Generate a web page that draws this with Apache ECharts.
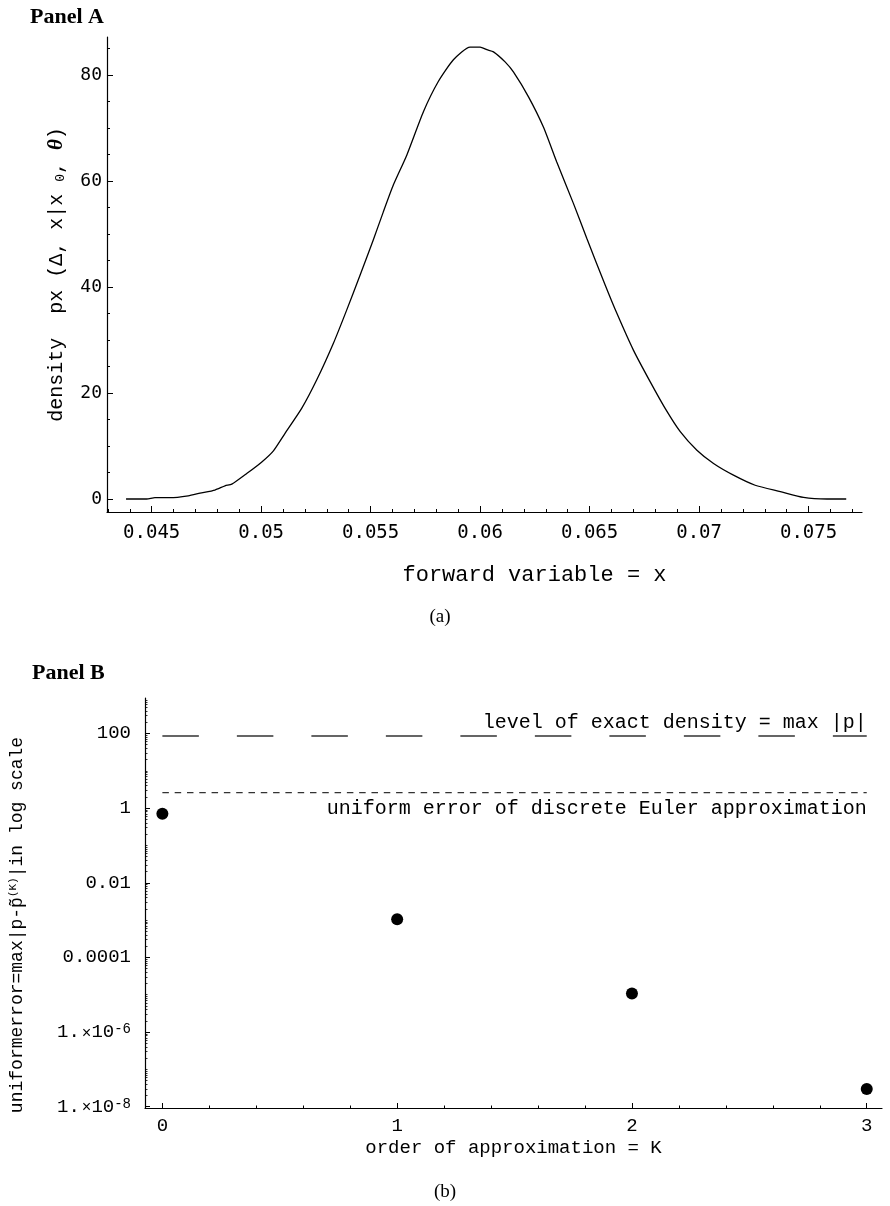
<!DOCTYPE html>
<html><head><meta charset="utf-8">
<script src="https://cdn.jsdelivr.net/npm/echarts@6/dist/echarts.min.js"></script>
<style>html,body{margin:0;padding:0;background:#fff}#c{width:890px;height:1206px}</style>
</head><body><div id="c"></div>
<script>
// ---------- Panel A : density of the forward variable ----------
const forwardX = [0.04383,0.04477,0.04515,0.04584,0.04667,0.04721,0.04789,0.04835,0.04866,0.04934,
  0.05003,0.05056,0.05109,0.05185,0.05254,0.05330,0.05391,0.05452,0.05512,0.05558,
  0.05604,0.05665,0.05741,0.05809,0.05878,0.05954,0.06000,0.06031,0.06061,0.06114,
  0.06152,0.06221,0.06289,0.06350,0.06426,0.06487,0.06571,0.06625,0.06700,0.06777,
  0.06845,0.06914,0.06990,0.07066,0.07157,0.07256,0.07371,0.07477,0.07584,0.07672];
const densityPx = [0,0,0.25,0.25,0.6,1.1,1.7,2.5,2.8,4.8,
  7.0,9.1,12.4,17.1,22.5,29.4,35.7,42.3,48.9,54.2,
  59.3,64.9,73.1,78.8,82.9,85.3,85.3,84.8,84.4,82.5,
  80.6,75.9,70.2,63.6,55.8,49.2,40.4,35.0,28.1,22.1,
  17.1,12.7,9.2,6.7,4.5,2.6,1.4,0.3,0,0];
const xTicksA = [0.045,0.05,0.055,0.06,0.065,0.07,0.075];
const xMinorTicksA = [0.043,0.044,0.046,0.047,0.048,0.049,0.051,0.052,0.053,0.054,0.056,0.057,0.058,0.059,
  0.061,0.062,0.063,0.064,0.066,0.067,0.068,0.069,0.071,0.072,0.073,0.074,0.076,0.077];
const yTicksA = [0,20,40,60,80];
const yMinorTicksA = [5,10,15,25,30,35,45,50,55,65,70,75,85];

// ---------- Panel B : uniform error vs order K ----------
const orderK = [0,1,2,3];
const uniformError = [0.71,0.00105,1.08e-5,3.0e-8];
const exactDensityMax = 85.3;
const eulerUniformError = 2.6;
const refLineK = [0,3];
const xTicksB = [0,1,2,3];
const xMinorTicksB = [0.2,0.4,0.6,0.8,1.2,1.4,1.6,1.8,2.2,2.4,2.6,2.8];
const yTickExpB = [-8,-6,-4,-2,0,2];
const yTickLabelsB = ['1.×10^-8','1.×10^-6','0.0001','0.01','1','100'];

const lg = v => Math.log10(v);
// log-scale minor ticks (2..9 × 10^k and odd decades)
const yMinorTicksB = [];
for (let k = -8; k <= 2; k++) {
  for (let m = 1; m <= 9; m++) {
    if (m === 1 && yTickExpB.indexOf(k) >= 0) continue;
    yMinorTicksB.push(k + Math.log10(m));
  }
}

const MONO = '"Liberation Mono", "Courier New", monospace';
const SMONO = '"DejaVu Sans Mono", monospace';
const SERIF = '"Liberation Serif", "Times New Roman", serif';
const black = '#000';

const axLine = {show: true, onZero: false, lineStyle: {color: black, width: 1.2}};
const noLine = {show: false, onZero: false};

const option = {
  animation: false,
  backgroundColor: '#fff',
  textStyle: {fontFamily: MONO, color: black},
  grid: [
    {left: 107, right: 28, top: 37, height: 475},
    {left: 144, right: 8, top: 698, height: 410}
  ],
  xAxis: [
    {gridIndex: 0, type: 'value', min: 0.04296, max: 0.07744, position: 'bottom',
     axisLine: axLine,
     axisTick: {show: true, inside: true, length: 6, customValues: xTicksA, lineStyle: {color: black}},
     axisLabel: {customValues: xTicksA, formatter: v => String(+(+v).toFixed(3)), color: black,
                 fontFamily: SMONO, fontSize: 19, margin: 12},
     splitLine: {show: false},
     name: 'forward variable = x', nameLocation: 'middle', nameGap: 52,
     nameTextStyle: {fontFamily: MONO, fontSize: 22, color: black, padding: [0, 0, 0, 100]}},
    {gridIndex: 0, type: 'value', min: 0.04296, max: 0.07744, position: 'bottom',
     axisLine: noLine,
     axisTick: {show: true, inside: true, length: 3, customValues: xMinorTicksA, lineStyle: {color: black}},
     axisLabel: {show: false}, splitLine: {show: false}},
    {gridIndex: 1, type: 'value', min: -0.074, max: 3.065, position: 'bottom',
     axisLine: axLine,
     axisTick: {show: true, inside: true, length: 5, customValues: xTicksB, lineStyle: {color: black}},
     axisLabel: {customValues: xTicksB, color: black, fontFamily: MONO, fontSize: 19, margin: 8},
     splitLine: {show: false},
     name: 'order of approximation = K', nameLocation: 'middle', nameGap: 30,
     nameTextStyle: {fontFamily: MONO, fontSize: 19, color: black}},
    {gridIndex: 1, type: 'value', min: -0.074, max: 3.065, position: 'bottom',
     axisLine: noLine,
     axisTick: {show: true, inside: true, length: 2.5, customValues: xMinorTicksB, lineStyle: {color: black}},
     axisLabel: {show: false}, splitLine: {show: false}}
  ],
  yAxis: [
    {gridIndex: 0, type: 'value', min: -2.45, max: 87.2, position: 'left',
     axisLine: axLine,
     axisTick: {show: true, inside: true, length: 6, customValues: yTicksA, lineStyle: {color: black}},
     axisLabel: {customValues: yTicksA, color: black, fontFamily: SMONO, fontSize: 18, margin: 5},
     splitLine: {show: false},
     name: '{t|density  px (Δ, x|x }{s|0}{t|, }{i|θ}{t|)}', nameLocation: 'middle', nameGap: 40,
     nameRotate: 90,
     nameTextStyle: {color: black, rich: {
       t: {fontFamily: MONO, fontSize: 20, color: black},
       s: {fontFamily: MONO, fontSize: 13, color: black, verticalAlign: 'bottom', padding: [8, 0, 0, 0]},
       i: {fontFamily: SERIF, fontSize: 21, fontStyle: 'italic', fontWeight: 'bold', color: black}
     }}},
    {gridIndex: 0, type: 'value', min: -2.45, max: 87.2, position: 'left',
     axisLine: noLine,
     axisTick: {show: true, inside: true, length: 3, customValues: yMinorTicksA, lineStyle: {color: black}},
     axisLabel: {show: false}, splitLine: {show: false}},
    {gridIndex: 1, type: 'value', min: -8.035, max: 2.95, position: 'left',
     axisLine: axLine,
     axisTick: {show: true, inside: true, length: 5, customValues: yTickExpB, lineStyle: {color: black}},
     axisLabel: {customValues: yTickExpB, margin: 14, color: black,
       formatter: v => {
         const i = yTickExpB.indexOf(Math.round(v));
         const s = i >= 0 ? yTickLabelsB[i] : '';
         const m = s.match(/^1\.×10\^(-?\d+)$/);
         return m ? '{n|1.}{x|×}{t|10}{p|' + m[1] + '}' : '{n|' + s + '}';
       },
       rich: {
         n: {fontFamily: MONO, fontSize: 19, color: black, verticalAlign: 'bottom'},
         x: {fontFamily: MONO, fontSize: 16, color: black, verticalAlign: 'bottom', padding: [0, 0, 0, 2]},
         t: {fontFamily: MONO, fontSize: 19, color: black, verticalAlign: 'top'},
         p: {fontFamily: MONO, fontSize: 14, color: black, verticalAlign: 'top'}
       }},
     splitLine: {show: false},
     name: '{t|uniformerror=max|p-p̃}{s|(K)}{t||in log scale}', nameLocation: 'middle', nameGap: 118,
     nameRotate: 90,
     nameTextStyle: {color: black, padding: [0, 44, 0, 0], rich: {
       t: {fontFamily: MONO, fontSize: 18, color: black},
       s: {fontFamily: MONO, fontSize: 11, color: black, verticalAlign: 'top', padding: [0, 0, 8, 0]}
     }}},
    {gridIndex: 1, type: 'value', min: -8.035, max: 2.95, position: 'left',
     axisLine: noLine,
     axisTick: {show: true, inside: true, length: 2.5, customValues: yMinorTicksB, lineStyle: {color: black, width: 0.8}},
     axisLabel: {show: false}, splitLine: {show: false}}
  ],
  series: [
    {type: 'line', xAxisIndex: 0, yAxisIndex: 0, showSymbol: false, smooth: 0.2,
     data: forwardX.map((x, i) => [x, densityPx[i]]),
     lineStyle: {color: black, width: 1.3}},
    {type: 'line', xAxisIndex: 2, yAxisIndex: 2, showSymbol: false,
     data: refLineK.map(k => [k, lg(exactDensityMax)]),
     lineStyle: {color: '#333', width: 1.5, type: [36.5, 38]}},
    {type: 'line', xAxisIndex: 2, yAxisIndex: 2, showSymbol: false,
     data: refLineK.map(k => [k, lg(eulerUniformError)]),
     lineStyle: {color: '#333', width: 1.3, type: [6.5, 5.8]}},
    {type: 'scatter', xAxisIndex: 2, yAxisIndex: 2, symbol: 'circle', symbolSize: 12,
     itemStyle: {color: black, opacity: 1},
     data: orderK.map((k, i) => [k, lg(uniformError[i])])}
  ]
};

const chart = echarts.init(document.getElementById('c'));
chart.setOption(option);

const pLevel = chart.convertToPixel({xAxisIndex: 2, yAxisIndex: 2}, [refLineK[1], lg(exactDensityMax)]);
const pEuler = chart.convertToPixel({xAxisIndex: 2, yAxisIndex: 2}, [refLineK[1], lg(eulerUniformError)]);

chart.setOption({
  graphic: [
    {type: 'text', x: 30, y: 17, style: {text: 'Panel A', fill: black, font: 'bold 22px ' + SERIF, verticalAlign: 'middle'}},
    {type: 'text', x: 440, y: 617, style: {text: '(a)', fill: black, font: '19px ' + SERIF, align: 'center', verticalAlign: 'middle'}},
    {type: 'text', x: 32, y: 673, style: {text: 'Panel B', fill: black, font: 'bold 22px ' + SERIF, verticalAlign: 'middle'}},
    {type: 'text', x: 445, y: 1192, style: {text: '(b)', fill: black, font: '19px ' + SERIF, align: 'center', verticalAlign: 'middle'}},
    {type: 'text', x: pLevel[0], y: pLevel[1] - 13, style: {text: 'level of exact density = max |p|', fill: black, font: '20px ' + MONO, align: 'right', verticalAlign: 'middle'}},
    {type: 'text', x: pEuler[0], y: pEuler[1] + 16, style: {text: 'uniform error of discrete Euler approximation', fill: black, font: '20px ' + MONO, align: 'right', verticalAlign: 'middle'}}
  ]
});
</script>
</body></html>
